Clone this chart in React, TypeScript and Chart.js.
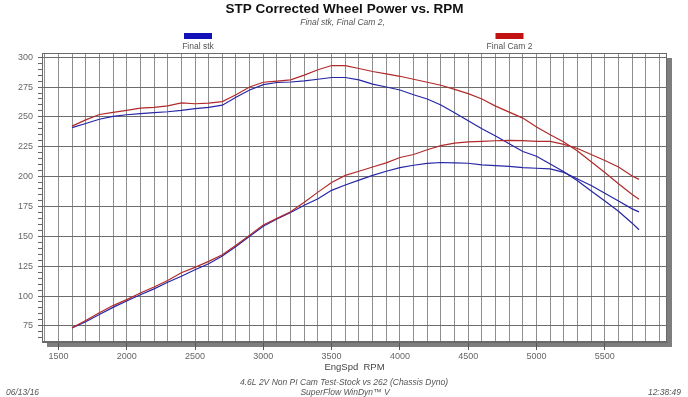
import React, { useEffect, useRef } from 'react';
import { Chart, registerables } from 'chart.js';

Chart.register(...registerables);

// ---------- data ----------
const rpm = [
  1600, 1700, 1800, 1900, 2000, 2100, 2200, 2300, 2400, 2500, 2600, 2700, 2800, 2900,
  3000, 3100, 3200, 3300, 3400, 3500, 3600, 3700, 3800, 3900, 4000, 4100, 4200, 4300,
  4400, 4500, 4600, 4700, 4800, 4900, 5000, 5100, 5200, 5300, 5400, 5500, 5600, 5700, 5750,
];

const stkTorque = [
  241, 244.5, 248, 250.5, 251.8, 252.8, 253.5, 254.3, 255.5, 257, 258, 259.8, 266.5, 272.5,
  277, 278.8, 279.2, 280.2, 281.5, 283, 283, 281, 277.5, 275, 272.5, 268.5, 265, 260,
  253.5, 246.7, 240, 234, 227.5, 221, 217, 210.5, 204, 196.5, 188, 179.5, 171, 161, 155.5,
];

const stkPower = [
  73.2, 78.5, 84.5, 90.5, 95.8, 101, 106, 111.5, 116.5, 122, 127, 133.5, 141.5, 150,
  158.5, 164.5, 170, 176, 181.5, 188.5, 193, 197, 201, 204.5, 207.5, 209.5, 211, 211.8,
  211.5, 211.2, 209.8, 209.2, 208.5, 207.5, 207, 206.5, 203.5, 198, 192.5, 186, 179.5, 173, 170.5,
];

const cam2Torque = [
  242.3, 247.5, 252, 253.8, 255.5, 257.3, 258, 259.3, 261.8, 261, 261.5, 262.8, 268.5, 275,
  279, 280, 281, 285, 289.5, 293, 293, 290.5, 288, 286, 284, 281.5, 279, 276.5,
  273, 269.5, 265, 259, 254, 249, 241.5, 235, 229, 221.5, 212.5, 203.5, 194, 185, 181,
];

const cam2Power = [
  73.5, 79.5, 86, 92, 97, 102.5, 107.5, 113, 119.5, 124, 129, 134.5, 142.5, 151,
  159.5, 165, 170.5, 178.5, 187, 195, 201, 204.5, 208, 211.5, 216, 218.5, 222.5, 226,
  228, 229, 229.5, 230, 230.3, 230.2, 229.5, 229.5, 227, 223.5, 218.5, 213.5, 208, 200.5, 197.7,
];

const seriesNames = ['Final stk', 'Final Cam 2'];
const xLabelTicks = [1500, 2000, 2500, 3000, 3500, 4000, 4500, 5000, 5500];
const yLabelTicks = [75, 100, 125, 150, 175, 200, 225, 250, 275, 300];

const titleText = 'STP Corrected Wheel Power vs. RPM';
const subtitleText = 'Final stk, Final Cam 2,';
const xTitleText = 'EngSpd  RPM';
const footerLine1 = '4.6L 2V Non PI Cam Test-Stock vs 262 (Chassis Dyno)';
const footerLine2 = 'SuperFlow WinDyn\u2122 V';
const dateText = '06/13/16';
const timeText = '12:38:49';

// ---------- styling ----------
const FONT = '"Liberation Sans", Arial, Helvetica, sans-serif';
const BLUE_LINE = '#2626a6';
const RED_LINE = '#b22a2a';
const BLUE_BOX = '#1212b8';
const RED_BOX = '#c21212';

const X_MIN = 1380;
const X_MAX = 5955;
const Y_MIN = 61.5;
const Y_MAX = 303.5;

const xGridValues: number[] = [];
for (let v = 1400; v <= 5900; v += 100) xGridValues.push(v);
const yMinorValues: number[] = [];
for (let v = 65; v <= 300; v += 5) yMinorValues.push(v);

const toPoints = (ys: number[]) => rpm.map((x, i) => ({ x, y: ys[i] }));

const decorPlugin = {
  id: 'decor',
  beforeDraw(chart: any) {
    const { ctx, chartArea: a } = chart;
    ctx.save();
    ctx.fillStyle = '#ffffff';
    ctx.fillRect(0, 0, chart.width, chart.height);
    ctx.fillStyle = '#7e7e7e';
    ctx.fillRect(a.left + 5, a.bottom, a.right - a.left, 5);
    ctx.fillRect(a.right, a.top + 5, 5, a.bottom - a.top);
    ctx.restore();
  },
  afterDraw(chart: any) {
    const { ctx, chartArea: a } = chart;
    ctx.save();
    // frame
    ctx.strokeStyle = '#6a6a6a';
    ctx.lineWidth = 1;
    ctx.strokeRect(a.left + 0.5, a.top + 0.5, a.right - a.left - 1, a.bottom - a.top - 1);

    ctx.textBaseline = 'middle';
    ctx.textAlign = 'center';
    // title
    ctx.fillStyle = '#111111';
    ctx.font = `bold 13.5px ${FONT}`;
    ctx.fillText(titleText, 344.5, 9);
    // subtitle
    ctx.fillStyle = '#555555';
    ctx.font = `italic 8.5px ${FONT}`;
    ctx.fillText(subtitleText, 342.5, 22.5);

    // legend
    const legendItems = [
      { name: seriesNames[0], color: BLUE_BOX, cx: 198 },
      { name: seriesNames[1], color: RED_BOX, cx: 509.5 },
    ];
    ctx.font = `8.5px ${FONT}`;
    legendItems.forEach((it) => {
      ctx.fillStyle = it.color;
      ctx.fillRect(it.cx - 14, 33, 28, 6);
      ctx.fillStyle = '#555555';
      ctx.fillText(it.name, it.cx, 46.5);
    });

    // footer
    ctx.fillStyle = '#555555';
    ctx.font = `italic 8.5px ${FONT}`;
    ctx.fillText(footerLine1, 344, 382.5);
    ctx.fillText(footerLine2, 345, 392.5);
    ctx.textAlign = 'left';
    ctx.fillText(dateText, 6, 392.5);
    ctx.textAlign = 'right';
    ctx.fillText(timeText, 681, 392.5);
    ctx.restore();
  },
};

export default function App() {
  const canvasRef = useRef<HTMLCanvasElement | null>(null);

  useEffect(() => {
    document.body.style.margin = '0';
    const canvas = canvasRef.current;
    if (!canvas) return;

    const chart = new Chart(canvas, {
      type: 'line',
      data: {
        datasets: [
          {
            label: seriesNames[1] + ' torque',
            data: toPoints(cam2Torque),
            borderColor: RED_LINE,
            order: 0,
          },
          {
            label: seriesNames[1] + ' power',
            data: toPoints(cam2Power),
            borderColor: RED_LINE,
            order: 0,
          },
          {
            label: seriesNames[0] + ' torque',
            data: toPoints(stkTorque),
            borderColor: BLUE_LINE,
            order: 1,
          },
          {
            label: seriesNames[0] + ' power',
            data: toPoints(stkPower),
            borderColor: BLUE_LINE,
            order: 1,
          },
        ],
      },
      options: {
        responsive: false,
        animation: false,
        devicePixelRatio: 1,
        parsing: true,
        elements: {
          line: { borderWidth: 1.2, tension: 0, fill: false },
          point: { radius: 0, hoverRadius: 0 },
        },
        layout: { padding: { top: 53, right: 21, bottom: 24, left: 0 } },
        plugins: {
          legend: { display: false },
          title: { display: false },
          tooltip: { enabled: false },
        },
        scales: {
          x: {
            type: 'linear',
            min: X_MIN,
            max: X_MAX,
            afterBuildTicks: (scale: any) => {
              scale.ticks = xGridValues.map((value) => ({ value }));
            },
            afterFit: (scale: any) => {
              scale.height = 31;
            },
            ticks: {
              autoSkip: false,
              maxRotation: 0,
              minRotation: 0,
              padding: 1,
              color: '#666666',
              font: { family: FONT, size: 9 },
              callback: (v: any) => (xLabelTicks.includes(Number(v)) ? String(v) : ''),
            },
            grid: {
              color: '#8e8e8e',
              lineWidth: 1,
              drawTicks: true,
              tickLength: 8,
              tickColor: (c: any) =>
                xLabelTicks.includes(c.tick && c.tick.value) ? '#555555' : 'rgba(0,0,0,0)',
            },
            border: { display: true, color: '#6a6a6a' },
            title: {
              display: true,
              text: xTitleText,
              color: '#444444',
              font: { family: FONT, size: 9.5 },
              padding: { top: 0, bottom: 0 },
            },
          },
          y: {
            type: 'linear',
            min: Y_MIN,
            max: Y_MAX,
            afterBuildTicks: (scale: any) => {
              scale.ticks = yMinorValues.map((value) => ({ value }));
            },
            afterFit: (scale: any) => {
              scale.width = 42;
            },
            ticks: {
              autoSkip: false,
              padding: 5,
              color: '#666666',
              font: { family: FONT, size: 9 },
              callback: (v: any) => (yLabelTicks.includes(Number(v)) ? String(v) : ''),
            },
            grid: {
              color: (c: any) =>
                yLabelTicks.includes(c.tick && c.tick.value) ? '#6c6c6c' : 'rgba(0,0,0,0)',
              lineWidth: 1,
              drawTicks: true,
              tickLength: 4,
              tickColor: '#666666',
            },
            border: { display: true, color: '#6a6a6a' },
          },
        },
      },
      plugins: [decorPlugin],
    } as any);

    return () => {
      chart.destroy();
    };
  }, []);

  return (
    <div style={{ position: 'absolute', left: 0, top: 0, width: 688, height: 397, background: '#fff' }}>
      <canvas ref={canvasRef} width={688} height={397} style={{ display: 'block' }} />
    </div>
  );
}
